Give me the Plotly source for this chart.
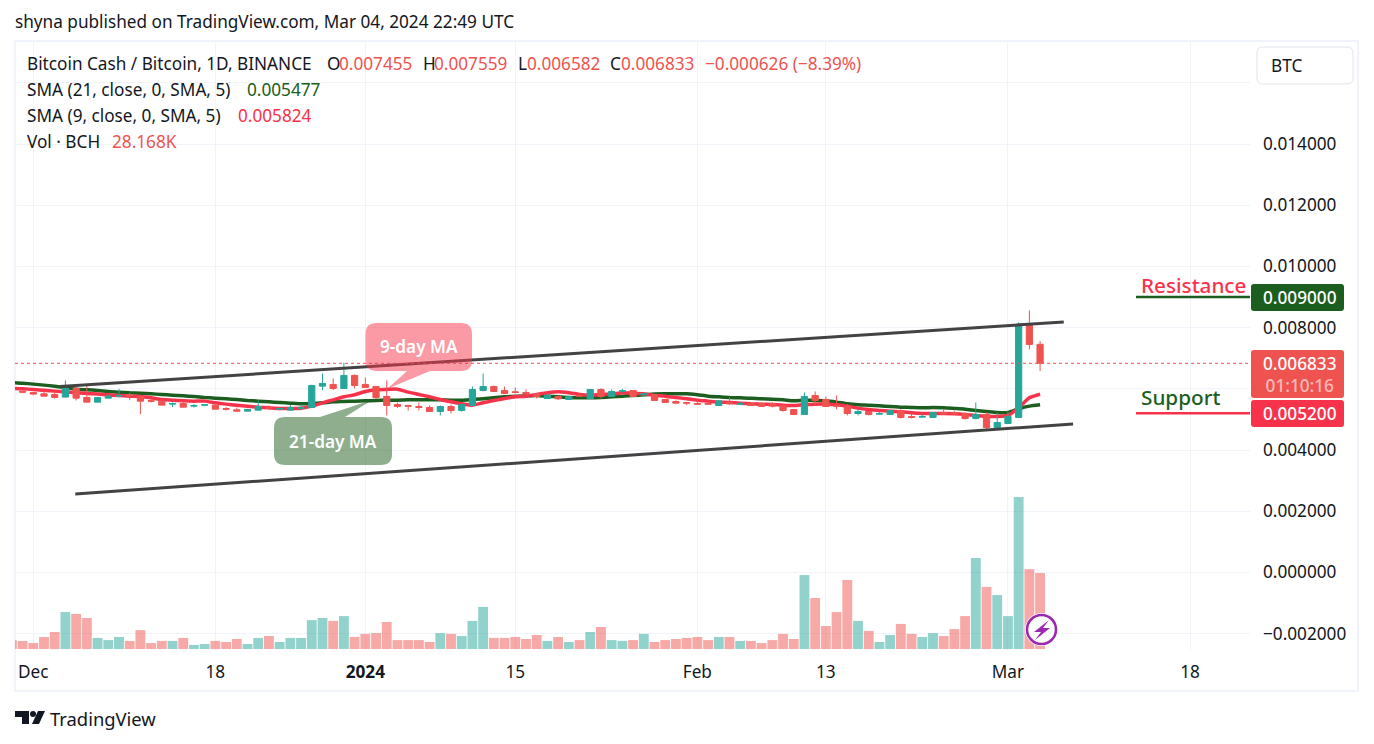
import pandas as pd
import plotly.graph_objects as go

# prices are in millionths of a BTC, volume in thousands of BCH
days = pd.date_range("2023-11-29", "2024-03-04")

opens = [6000, 5924,
         5880, 5837, 5815, 5728, 6011, 5717, 5564, 5695, 5760, 5793, 5760, 5619, 5597, 5499, 5520, 5433, 5466, 5466, 5357, 5313, 5270, 5302, 5390, 5335, 5302, 5357, 5390, 6087, 6142, 6011, 6436,
         6142, 6076, 5749, 5488, 5455, 5422, 5390, 5259, 5422, 5292, 5455, 5946, 6076, 5946, 5902, 5880, 5837, 5684, 5749, 5651, 5782, 5684, 5978, 5749, 5913, 5946, 5804, 5815, 5651, 5586, 5553,
         5520, 5520, 5455, 5553, 5488, 5520, 5520, 5520, 5444, 5324, 5161, 5782, 5651, 5455, 5422, 5193, 5259, 5172, 5161, 5292, 5095, 5074, 5063, 5215, 5215, 5193, 5030, 5161, 4736,
         4866, 5063, 8104, 7455]
highs = [6033, 5946,
         5880, 5913, 5902, 6273, 6055, 6087, 5717, 5804, 6000, 5869, 5782, 5684, 5673, 5553, 5564, 5499, 5499, 5488, 5401, 5390, 5346, 5619, 5455, 5390, 5466, 5488, 6131, 6501, 6338, 6850, 6469,
         6371, 6076, 6273, 5553, 5477, 5553, 5455, 5455, 5488, 5520, 6076, 6501, 6109, 6076, 6044, 5978, 5837, 5815, 5782, 5749, 5815, 5978, 6011, 5978, 6000, 5946, 5880, 5815, 5651, 5619, 5553,
         5619, 5553, 5619, 5717, 5586, 5553, 5553, 5553, 5488, 5324, 5880, 5913, 5749, 5782, 5488, 5324, 5259, 5237, 5292, 5324, 5226, 5161, 5226, 5324, 5270, 5226, 5553, 5226, 5226,
         5259, 8169, 8562, 7559]
lows = [5956, 5858,
        5793, 5760, 5684, 5728, 5619, 5564, 5564, 5695, 5749, 5629, 5172, 5553, 5466, 5401, 5390, 5390, 5433, 5335, 5292, 5259, 5259, 5292, 5302, 5302, 5302, 5302, 5390, 5956, 5956, 6011, 6011,
        6044, 5673, 5128, 5368, 5292, 5292, 5259, 5128, 5193, 5259, 5455, 5913, 5891, 5847, 5847, 5826, 5684, 5673, 5629, 5651, 5738, 5684, 5684, 5749, 5880, 5749, 5749, 5619, 5553, 5520, 5466,
        5488, 5488, 5455, 5488, 5488, 5455, 5422, 5390, 5259, 5161, 5161, 5488, 5422, 5324, 5128, 5128, 5128, 5161, 5161, 5030, 5030, 5063, 5063, 5150, 5150, 4997, 4997, 4670, 4736,
        4866, 5063, 7290, 6582]
closes = [5967, 5891,
          5826, 5760, 5717, 6011, 5695, 5564, 5717, 5760, 5782, 5771, 5597, 5597, 5466, 5520, 5401, 5455, 5477, 5335, 5335, 5270, 5324, 5422, 5368, 5357, 5390, 5379, 6109, 6174, 6011, 6436, 6109,
          6044, 5717, 5455, 5422, 5433, 5390, 5259, 5422, 5292, 5488, 5978, 6076, 5913, 5847, 5880, 5826, 5749, 5793, 5673, 5749, 5760, 5978, 5749, 5913, 5935, 5749, 5837, 5619, 5553, 5531, 5531,
          5499, 5499, 5608, 5510, 5520, 5455, 5422, 5433, 5292, 5161, 5749, 5619, 5422, 5433, 5193, 5259, 5161, 5193, 5292, 5063, 5063, 5095, 5226, 5183, 5183, 5030, 5161, 4736, 4899,
          5095, 8104, 7450, 6833]
volumes = [3.2, 2.96,
           2.2, 4.45, 6.3, 13.7, 13.0, 11.5, 4.1, 3.3, 4.45, 3.0, 7.0, 2.2, 3.0, 3.0, 4.1, 1.5, 1.85, 3.0, 2.6, 3.7, 1.85, 4.1, 4.8, 2.6, 4.1, 4.1, 10.7, 11.5, 10.4, 12.2, 4.45,
           5.6, 5.9, 10.0, 3.3, 3.3, 3.3, 2.6, 5.9, 5.6, 4.8, 10.4, 15.6, 4.1, 4.1, 4.45, 3.7, 5.2, 3.0, 4.45, 2.6, 3.3, 6.3, 8.15, 3.3, 3.0, 3.3, 5.6, 2.6, 3.3, 3.7, 4.1,
           4.45, 3.3, 4.45, 4.45, 3.0, 3.0, 2.2, 3.3, 5.6, 3.7, 27.4, 18.9, 8.5, 13.7, 25.6, 10.4, 6.7, 2.6, 5.2, 9.3, 5.6, 4.45, 5.9, 4.8, 7.4, 12.2, 33.7, 23.0, 20.0,
           12.2, 56.3, 29.6, 28.168]
sma21 = [6207, 6185,
         6153, 6120, 6087, 6044, 5989, 5967, 5946, 5913, 5891, 5869, 5858, 5837, 5815, 5793, 5771, 5749, 5717, 5695, 5673, 5651, 5619, 5597, 5575, 5553, 5531, 5510, 5520, 5542, 5575, 5586, 5597,
         5608, 5619, 5629, 5629, 5640, 5640, 5640, 5640, 5629, 5629, 5651, 5673, 5706, 5738, 5760, 5771, 5782, 5760, 5738, 5717, 5706, 5706, 5717, 5738, 5760, 5782, 5804, 5826, 5837, 5837, 5837,
         5804, 5760, 5738, 5717, 5706, 5695, 5673, 5662, 5640, 5608, 5629, 5619, 5608, 5564, 5510, 5477, 5466, 5444, 5422, 5401, 5390, 5379, 5390, 5379, 5357, 5335, 5292, 5259, 5226,
         5226, 5346, 5433, 5477]
sma9 = [6011, 6000,
        5978, 5956, 5924, 5902, 5869, 5847, 5826, 5804, 5782, 5760, 5749, 5706, 5651, 5629, 5608, 5597, 5597, 5542, 5499, 5466, 5433, 5401, 5379, 5357, 5357, 5368, 5433, 5542, 5640, 5738, 5804,
        5913, 5967, 5978, 5989, 5891, 5815, 5738, 5651, 5575, 5510, 5466, 5542, 5619, 5684, 5738, 5760, 5815, 5869, 5902, 5869, 5815, 5793, 5815, 5826, 5869, 5858, 5837, 5782, 5760, 5717, 5673,
        5629, 5597, 5564, 5553, 5531, 5510, 5499, 5488, 5466, 5455, 5488, 5499, 5499, 5477, 5433, 5368, 5324, 5292, 5270, 5248, 5215, 5193, 5193, 5193, 5183, 5161, 5128, 5095, 5095,
        5128, 5379, 5706, 5824]

upper_x = ["2023-12-03 12:00", "2024-03-06 05:00"]
upper_y = [6075, 8183]
lower_x = ["2023-12-04 22:00", "2024-03-07 02:00"]
lower_y = [2562, 4850]

price_ticks = [0.016, 0.014, 0.012, 0.010, 0.008, 0.006, 0.004, 0.002, 0.0, -0.002]
price_labels = ["", "0.014000", "0.012000", "0.010000", "0.008000", "0.006000", "0.004000", "0.002000", "0.000000", "−0.002000"]
date_ticks = ["2023-12-01", "2023-12-18", "2024-01-01", "2024-01-15", "2024-02-01", "2024-02-13", "2024-03-01", "2024-03-18"]
date_labels = ["Dec", "18", "<b>2024</b>", "15", "Feb", "13", "Mar", "18"]

last_price = 0.006833
resistance = 0.009
support = 0.0052

W, H = 1374, 744
L, R, T, B = 15, 1250, 42, 650
FONT = "Noto Sans"
TEXT = 17.2
INK = "#131722"
UP, DOWN = "#26a69a", "#ef5350"
GREEN, RED = "#1b5e20", "#f7334b"
GRID = "#f0f3fa"


def px(x):
    return (x - L) / (R - L)


def py(y):
    return 1 - (y - T) / (B - T)


def micro(values):
    return [v * 1e-6 for v in values]


def label(x, y, text, color=INK, size=TEXT, anchor="left", weight=None):
    # annotations keep a little padding, take it off left aligned text
    x = x - 2 if anchor == "left" else x
    return dict(xref="paper", yref="paper", x=px(x), y=py(y), text=text, showarrow=False,
                xanchor=anchor, yanchor="middle", align=anchor,
                font=dict(family=FONT, size=size, color=color, weight=weight))


def rounded(x0, y0, x1, y1, r, pointer=None, side="bottom"):
    # rounded box path, optionally with a callout pointer on one horizontal side
    pts = [f"M{px(x0 + r)},{py(y0)}"]
    if pointer and side == "top":
        a, tip, b = pointer
        pts += [f"L{px(a)},{py(y0)}", f"L{px(tip[0])},{py(tip[1])}", f"L{px(b)},{py(y0)}"]
    pts += [f"L{px(x1 - r)},{py(y0)}", f"Q{px(x1)},{py(y0)} {px(x1)},{py(y0 + r)}",
            f"L{px(x1)},{py(y1 - r)}", f"Q{px(x1)},{py(y1)} {px(x1 - r)},{py(y1)}"]
    if pointer and side == "bottom":
        a, tip, b = pointer
        pts += [f"L{px(b)},{py(y1)}", f"L{px(tip[0])},{py(tip[1])}", f"L{px(a)},{py(y1)}"]
    pts += [f"L{px(x0 + r)},{py(y1)}", f"Q{px(x0)},{py(y1)} {px(x0)},{py(y1 - r)}",
            f"L{px(x0)},{py(y0 + r)}", f"Q{px(x0)},{py(y0)} {px(x0 + r)},{py(y0)}", "Z"]
    return " ".join(pts)


def paper_shape(**kw):
    return dict(xref="paper", yref="paper", **kw)


def poly(points):
    return "M" + " L".join(f"{px(x)},{py(y)}" for x, y in points) + " Z"


price_top = 0.014 + (144 - T) / 30600
price_bottom = 0.014 - (B - 144) / 30600
price_range = [price_bottom, price_top]
vol_colors = ["rgba(38,166,154,0.5)" if c >= o else "rgba(239,83,80,0.5)" for o, c in zip(opens, closes)]

fig = go.Figure()

fig.add_trace(go.Bar(x=days, y=volumes, yaxis="y2", width=0.92 * 86400000,
                     marker=dict(color=vol_colors, line=dict(width=0)), showlegend=False))
fig.add_trace(go.Scatter(x=days, y=micro(sma21), mode="lines", yaxis="y",
                         line=dict(color=GREEN, width=3.5, shape="spline", smoothing=0.6), showlegend=False))
fig.add_trace(go.Scatter(x=days, y=micro(sma9), mode="lines", yaxis="y",
                         line=dict(color=RED, width=3.5, shape="spline", smoothing=0.6), showlegend=False))
fig.add_trace(go.Candlestick(x=days, open=micro(opens), high=micro(highs), low=micro(lows), close=micro(closes),
                             yaxis="y3", showlegend=False,
                             increasing=dict(line=dict(color=UP, width=1), fillcolor=UP),
                             decreasing=dict(line=dict(color=DOWN, width=1), fillcolor=DOWN)))
for xs, ys in [(upper_x, upper_y), (lower_x, lower_y)]:
    fig.add_trace(go.Scatter(x=xs, y=micro(ys), mode="lines", yaxis="y3",
                             line=dict(color="#434343", width=3), showlegend=False))

shapes = [
    paper_shape(type="rect", x0=px(15), x1=px(1358), y0=py(691), y1=py(41), line=dict(color=GRID, width=2), layer="below"),
    dict(type="line", xref="paper", yref="y", x0=0, x1=1, y0=last_price, y1=last_price,
         line=dict(color=DOWN, width=1, dash="dot")),
    dict(type="line", xref="paper", yref="y", x0=px(1136), x1=1, y0=resistance, y1=resistance,
         line=dict(color=GREEN, width=2.5)),
    dict(type="line", xref="paper", yref="y", x0=px(1136), x1=1, y0=support, y1=support,
         line=dict(color=RED, width=2.5)),
    paper_shape(type="path", path=rounded(1251, 284, 1344, 311, 3), fillcolor=GREEN, line=dict(width=0)),
    paper_shape(type="path", path=rounded(1251, 350, 1344, 398, 3), fillcolor=DOWN, line=dict(width=0)),
    paper_shape(type="path", path=rounded(1251, 400, 1344, 427, 3), fillcolor=RED, line=dict(width=0)),
    paper_shape(type="path", path=rounded(1257, 47, 1353, 84, 6), fillcolor="white", line=dict(color="#e0e3eb", width=1)),
    # callouts
    paper_shape(type="path", path=rounded(365.5, 323, 472, 371, 11, pointer=(407, (387, 389), 430)),
                fillcolor="rgba(247,51,75,0.5)", line=dict(width=0)),
    paper_shape(type="path", path=rounded(274, 417, 392, 465, 11, pointer=(320, (372, 400), 345), side="top"),
                fillcolor="rgba(30,93,30,0.5)", line=dict(width=0)),
    # streaks badge
    paper_shape(type="circle", x0=px(1025), x1=px(1058), y0=py(646), y1=py(613), fillcolor="white", line=dict(width=0)),
    paper_shape(type="circle", x0=px(1027), x1=px(1056), y0=py(644), y1=py(615), fillcolor="white",
                line=dict(color="#9c27b0", width=2.5)),
    paper_shape(type="path", path=poly([(1049, 620), (1034, 632), (1041, 632), (1035, 640), (1050, 628), (1043, 628)]),
                fillcolor="#9c27b0", line=dict(width=0)),
    # logo
    paper_shape(type="path", path=poly([(15, 711), (29, 711), (29, 724), (22, 724), (22, 717), (15, 717)]),
                fillcolor=INK, line=dict(width=0)),
    paper_shape(type="circle", x0=px(30), x1=px(36), y0=py(717), y1=py(711), fillcolor=INK, line=dict(width=0)),
    paper_shape(type="path", path=poly([(38, 711), (45, 711), (39, 724), (32, 724)]), fillcolor=INK, line=dict(width=0)),
]

annotations = [
    label(15, 22, "shyna published on TradingView.com, Mar 04, 2024 22:49 UTC"),
    label(27, 63.5, "Bitcoin Cash / Bitcoin, 1D, BINANCE"),
    label(327, 63.5, "O"), label(339, 63.5, "0.007455", DOWN),
    label(423, 63.5, "H"), label(434, 63.5, "0.007559", DOWN),
    label(518, 63.5, "L"), label(527, 63.5, "0.006582", DOWN),
    label(610, 63.5, "C"), label(621, 63.5, "0.006833", DOWN),
    label(705, 63.5, "−0.000626 (−8.39%)", DOWN),
    label(27, 89.5, "SMA (21, close, 0, SMA, 5)"), label(247, 89.5, "0.005477", GREEN),
    label(27, 115.5, "SMA (9, close, 0, SMA, 5)"), label(238, 115.5, "0.005824", RED),
    label(27, 141.5, "Vol · BCH"), label(112, 141.5, "28.168K", DOWN),
    label(1271, 65.5, "BTC"),
    label(1193, 285, "Resistance", RED, size=20.7, anchor="center", weight=500),
    label(1180, 397, "Support", GREEN, size=20.7, anchor="center", weight=500),
    label(1300, 297.5, "0.009000", "white", anchor="center", weight=500),
    label(1300, 374.5, "0.006833<br><span style='color:rgba(255,255,255,0.6)'>01:10:16</span>", "white", anchor="center", weight=500),
    label(1300, 413.5, "0.005200", "white", anchor="center", weight=500),
    label(418.5, 346, "9-day MA", "white", anchor="center", weight=600),
    label(333, 441, "21-day MA", "white", anchor="center", weight=600),
    label(50, 718, "TradingView", size=18.4),
]

fig.update_layout(
    width=W, height=H, autosize=False,
    margin=dict(l=L, r=W - R, t=T, b=H - B, pad=0),
    paper_bgcolor="white", plot_bgcolor="white",
    font=dict(family=FONT, size=TEXT, color=INK),
    showlegend=False, barmode="overlay", boxmode="overlay", boxgap=0.42, boxgroupgap=0,
    xaxis=dict(type="date", range=["2023-11-29 07:00", "2024-03-23 14:24"], rangeslider=dict(visible=False),
               tickmode="array", tickvals=date_ticks, ticktext=date_labels, showgrid=True, gridcolor=GRID, gridwidth=1,
               zeroline=False, showline=False, ticks="", ticklabelstandoff=10, tickfont=dict(size=TEXT, color=INK)),
    yaxis=dict(range=price_range, side="right", tickmode="array", tickvals=price_ticks, ticktext=price_labels,
               showgrid=True, gridcolor=GRID, gridwidth=1, zeroline=False, showline=False, ticks="",
               ticklabelstandoff=12, tickfont=dict(size=TEXT, color=INK)),
    yaxis2=dict(range=[-0.37, 225], overlaying="y", showgrid=False, zeroline=False, showticklabels=False, ticks=""),
    yaxis3=dict(range=price_range, overlaying="y", showgrid=False, zeroline=False, showticklabels=False, ticks=""),
    shapes=shapes, annotations=annotations,
)

fig.write_html("out.html", config={"displayModeBar": False},
               post_script="document.body.style.margin='0';")
